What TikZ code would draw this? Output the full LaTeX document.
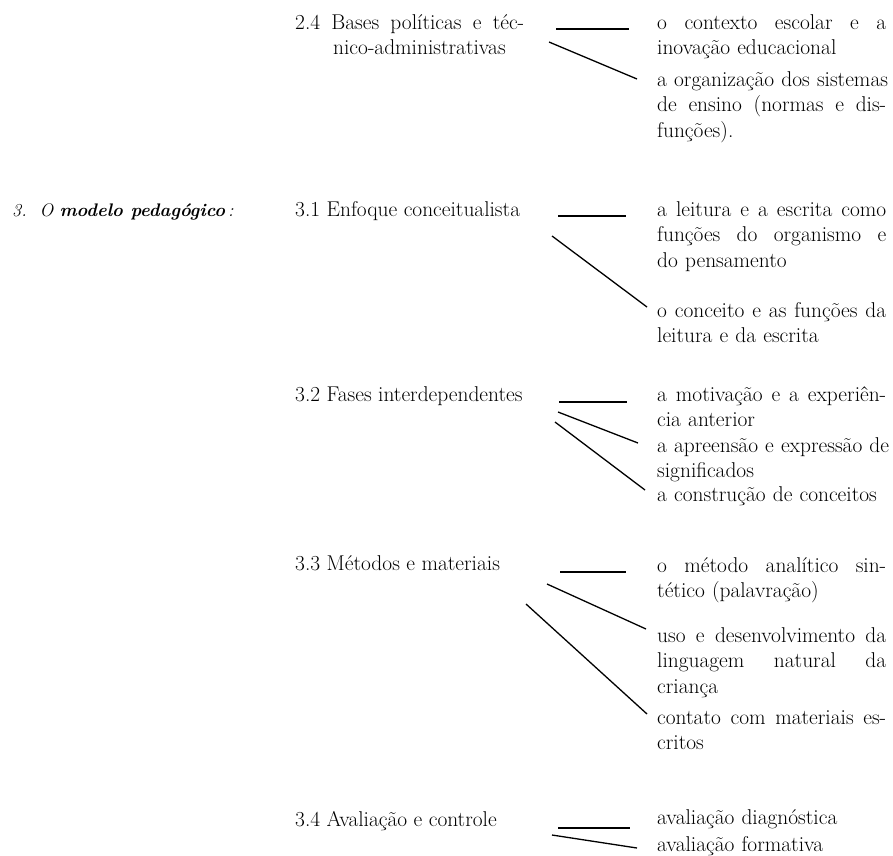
\documentclass[tikz,border=0pt]{standalone}
\newcommand{\fullline}[1]{\leavevmode\hbox to 229pt{\spaceskip=.333em plus 1fil\relax #1}}
\begin{document}
\begin{tikzpicture}[x=1pt,y=-1pt,
  txt/.style={anchor=base west, inner sep=0pt, font=\fontsize{21.4}{25.5}\selectfont},
  item/.style={txt, text width=229pt, align=left}]

        \useasboundingbox (0,0) rectangle (893,855);

        % left column
        \node[txt, font=\fontsize{18.2}{25.5}\selectfont] (modelo) at (12,216) {\itshape 3.\ \ O \textbf{modelo pedagógico}\,:};
        \node[item] (l24) at (295,29) {\fullline{2.4 Bases políticas e téc-}\\\hspace*{38pt}nico-administrativas};
        \node[txt] (l31) at (295,216) {3.1 Enfoque conceitualista};
        \node[txt] (l32) at (295,401) {3.2 Fases interdependentes};
        \node[txt] (l33) at (295,570) {3.3 Métodos e materiais};
        \node[txt] (l34) at (295,826) {3.4 Avaliação e controle};

        % right column
        \node[item] (t24a) at (657,29) {\fullline{o contexto escolar e a}\\inovação educacional};
        \node[item] (t24b) at (657,86) {\fullline{a organização dos sistemas}\\\fullline{de ensino (normas e dis-}\\funções).};
        \node[item] (t31a) at (657,216) {\fullline{a leitura e a escrita como}\\\fullline{funções do organismo e}\\do pensamento};
        \node[item] (t31b) at (657,317) {\fullline{o conceito e as funções da}\\leitura e da escrita};
        \node[item] (t32a) at (657,401) {\fullline{a motivação e a experiên-}\\cia anterior};
        \node[item] (t32b) at (657,452) {\fullline{a apreensão e expressão de}\\significados};
        \node[item] (t32c) at (657,501) {a construção de conceitos};
        \node[item] (t33a) at (657,572) {\fullline{o método analítico sin-}\\tético (palavração)};
        \node[item] (t33b) at (657,642) {\fullline{uso e desenvolvimento da}\\\fullline{linguagem natural da}\\criança};
        \node[item] (t33c) at (657,724) {\fullline{contato com materiais es-}\\critos};
        \node[item] (t34a) at (657,824) {avaliação diagnóstica};
        \node[item] (t34b) at (657,851) {avaliação formativa};

        % line ends
        \coordinate (h24)  at (556,29);  \coordinate (h24e)  at (629,29);
        \coordinate (d24)  at (549,42);  \coordinate (d24e)  at (637,79);
        \coordinate (h31)  at (558,216); \coordinate (h31e)  at (626,216);
        \coordinate (d31)  at (552,236); \coordinate (d31e)  at (647,307);
        \coordinate (h32)  at (559,402); \coordinate (h32e)  at (627,402);
        \coordinate (d32)  at (558,412); \coordinate (d32e)  at (638,443);
        \coordinate (dd32) at (555,422); \coordinate (dd32e) at (645,490);
        \coordinate (h33)  at (560,572); \coordinate (h33e)  at (626,572);
        \coordinate (d33)  at (547,584); \coordinate (d33e)  at (646,629);
        \coordinate (dd33) at (526,604); \coordinate (dd33e) at (647,714);
        \coordinate (h34)  at (558,828); \coordinate (h34e)  at (630,828);
        \coordinate (d34)  at (552,835); \coordinate (d34e)  at (637,848);

        \begin{scope}[every edge/.style={draw, line width=1.7pt}]
          \path (h24) edge (h24e);
          \path (h31) edge (h31e);
          \path (h32) edge (h32e);
          \path (h33) edge (h33e);
          \path (h34) edge (h34e);
        \end{scope}

        \begin{scope}[every edge/.style={draw, line width=1.3pt}]
          \path (d24)  edge (d24e);
          \path (d31)  edge (d31e);
          \path (d32)  edge (d32e);
          \path (dd32) edge (dd32e);
          \path (d33)  edge (d33e);
          \path (dd33) edge (dd33e);
          \path (d34)  edge (d34e);
        \end{scope}

      \end{tikzpicture}
\end{document}
